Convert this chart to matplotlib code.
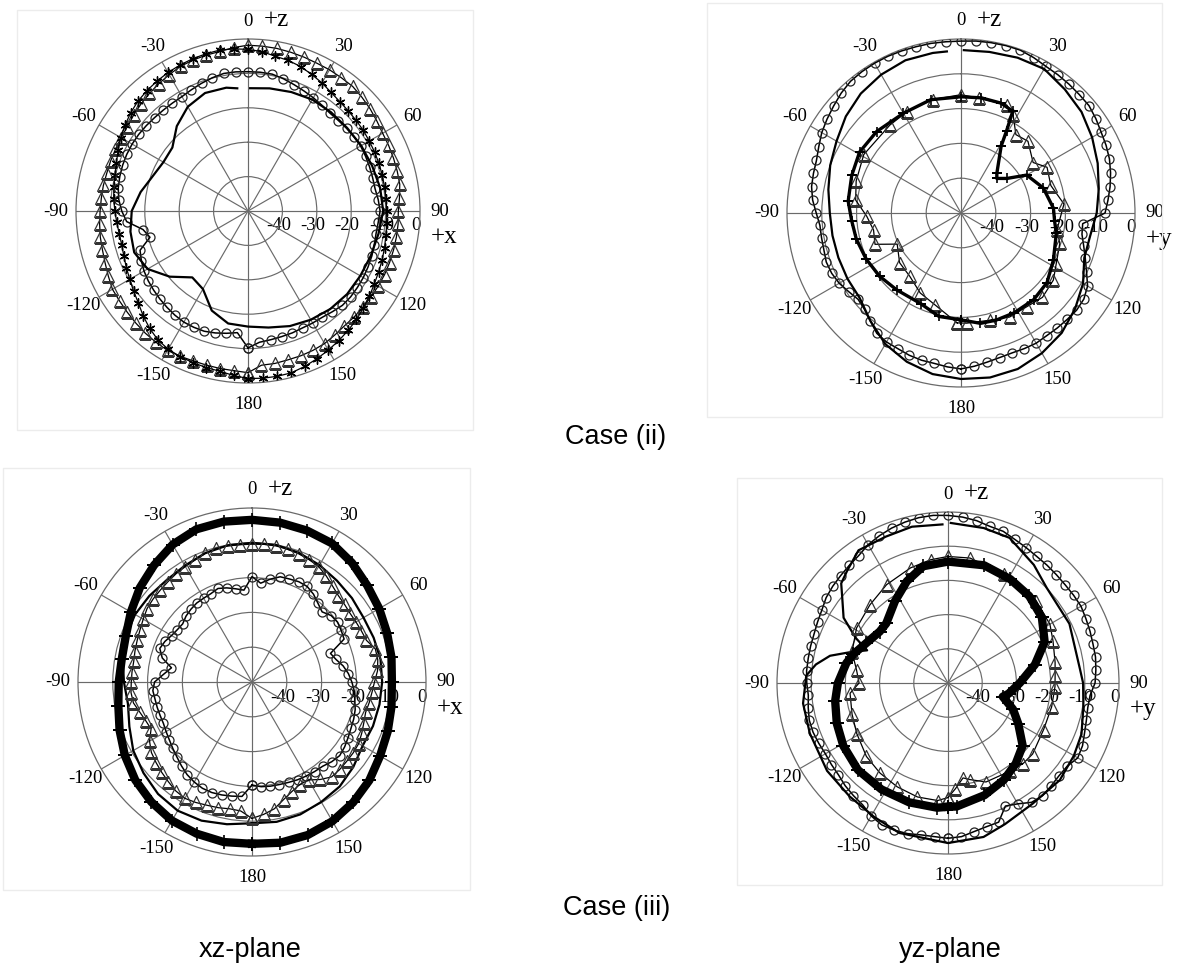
import numpy as np
import matplotlib.pyplot as plt
from matplotlib.patches import Rectangle

W, H, DPI = 1199, 968, 100

# angle grids (deg, 0 = top, clockwise)
ANG = np.arange(-180, 181, 10)
ANG5 = np.arange(-180, 181, 5)
GAP_ANG = np.r_[1, np.arange(10, 360, 10), 355]

# ---------------- Case (ii), xz-plane ----------------
xz2_tri = [-3, -3.4, -3.5, -3.6, -3.6, -3.4, -3.2, -3.4, -3.6, -3.9, -4.2, -4.4, -4.5, -5.2, -5.8, -6.2, -6.4, -6.7,
           -7, -7.2, -7.3, -7.5, -7.5, -7.5, -7.4, -7.2, -6.6, -6, -5.4, -4.8, -4.2, -3.6, -3.3, -3.1, -2.9, -2.3,
           -1.8, -1.9, -2, -2.2, -2.4, -2.6, -2.6, -2.7, -2.7, -3.2, -3.7, -4.3, -4.8, -4.9, -5, -5.1, -5.2, -5.8,
           -6.3, -6.2, -6.2, -6.2, -6.2, -6.2, -6.3, -6.4, -6.4, -6.4, -6.4, -6, -5.5, -5.3, -5.2, -5.2, -5, -5, -3]
xz2_star = [-1.3, -2, -2.7, -2.9, -3.1, -3.3, -3.6, -4.3, -5.5, -6.9, -8.4, -9.4, -10.3, -11, -11.6, -12, -12, -11.7,
            -11.3, -10.8, -10.4, -9.9, -9.3, -8.3, -7.3, -6.4, -5.5, -4.8, -4.3, -3.9, -3.5, -3.2, -2.9, -2.7, -2.5,
            -2.7, -3, -3.5, -4.3, -4.7, -5.3, -6.2, -7, -7.9, -8.5, -8.8, -9, -9.1, -9.3, -9.4, -9.5, -9.6, -9.7,
            -9.7, -9.7, -9.5, -9.3, -8.9, -8.5, -8.1, -7.6, -6.9, -6.2, -5.4, -4.7, -4, -3.3, -2.6, -1.9, -1.3, -1.2,
            -1.2, -1.3]
xz2_circ = [-10.2, -14.5, -13.9, -13.3, -12.8, -12.7, -12.7, -13, -13.4, -13.8, -14.2, -14.6, -15.1, -15.8, -16.6,
            -20.5, -19, -14.6, -13.3, -12.3, -11.7, -11.4, -11.2, -11.1, -11.1, -11.2, -11.4, -11.6, -11.7, -11.7,
            -11.6, -11.1, -10.5, -9.9, -9.4, -9.4, -9.5, -9.5, -9.6, -10.2, -10.9, -11.5, -12, -12.5, -12.9, -12.8,
            -12.6, -12.4, -12.2, -12.3, -12.4, -12.5, -12.5, -12, -11.6, -12, -12.2, -12, -11.7, -11.5, -11.3, -11.2,
            -11.1, -11.2, -11.8, -12.3, -12.4, -12.5, -12.3, -12.2, -12, -11.7, -10.2]
xz2_line = [-14.3, -13.8, -13.2, -12.6, -12.5, -12.4, -12, -11.6, -11, -10.7, -11.5, -12, -12.3, -12.4, -12.8, -13.5,
            -14.4, -15.6, -16.4, -16.8, -19.2, -23.8, -24.8, -20.3, -16.3, -14.8, -15.3, -16.2, -18.3, -20.5, -21.6,
            -21.3, -17.8, -15, -13.5, -13.6, -14.2]

# ---------------- Case (ii), yz-plane ----------------
yz2_circ = [-5.2, -5.6, -6.1, -6.2, -6.5, -7, -7.2, -7.8, -9.5, -10.8, -11.4, -10.6, -9.6, -9, -8.8, -9.2, -9.3, -9.3,
            -8.4, -7.2, -6.4, -6.1, -5.8, -4.9, -3.8, -3, -2.2, -1.3, -0.6, -0.4, -0.3, -0.3, -0.4, -0.5, -0.5, -0.6,
            -0.6, -0.4, -0.3, -0.2, -0.2, -0.7, -1.3, -1.5, -1.7, -1.9, -2, -2.7, -3.5, -4, -4.6, -5.5, -6.5, -7.6,
            -8.6, -14.9, -14.7, -13.5, -12, -10.2, -8, -6.9, -6.6, -6.8, -6.9, -7, -6.8, -7, -7.2, -7, -6.5, -5.8, -5.2]
yz2_line = [-3.2, -3, -2.5, -2.2, -3.6, -4.8, -6.5, -8.2, -9.8, -11, -12.3, -12.3, -9.5, -7.2, -5, -3.5, -2.3, -2,
            -2.3, -3, -4.5, -6.5, -9.5, -12, -12.3, -12.5, -12.5, -12.3, -11.3, -10, -8.7, -6.8, -5.2, -4.1, -3.3,
            -3.3, -3.4]
yz2_tri_ang = [-178, -164, -153, -141, -129, -116, -110, -101, -92, -83, -73, -59, -39, -28, -14, 0, 9, 23, 28, 35,
               43, 55, 62, 73, 85, 100, 107, 118, 126, 136, 145, 155, 165, 177, 182]
yz2_tri = [-18.4, -22.6, -24.2, -26.6, -27.3, -29.6, -23.7, -24.4, -22.9, -19.5, -18.5, -17.4, -17.5, -17, -16.4,
           -16, -16.6, -16.3, -18.1, -22.5, -21.8, -24.7, -22, -23, -20.3, -22, -20.3, -19, -17.2, -16.3, -17.1, -17,
           -18.1, -18.3, -18.4]
yz2_star_ang = [-180, -168, -156, -140, -128, -116, -104, -94, -84, -71, -59, -46, -30, -15, 0, 10, 20, 27, 29, 31,
                42, 46, 53, 60, 73, 87, 95, 102, 117, 129, 140, 152, 162, 170, 180]
yz2_star = [-19.3, -19.6, -21.5, -21.2, -20.4, -19.7, -19, -18.5, -17.4, -16.8, -16, -16.3, -16.9, -16.3, -16.6,
            -16.4, -16.4, -17.2, -23, -27.6, -34.6, -35.7, -33.5, -28.2, -25.3, -23.4, -23, -22, -20.2, -18.2, -17.5,
            -17.5, -17.6, -17.8, -19.3]

# ---------------- Case (iii), xz-plane ----------------
xz3_star = [-3.5, -3.3, -3.6, -4, -5, -6.2, -7.8, -9.5, -11, -11.7, -12, -11.4, -9.8, -7.9, -6.2, -4.4, -3.3, -3.2,
            -3.4, -3.5, -3.7, -4, -5.3, -6.8, -7.8, -8.7, -9.3, -9.8, -9.3, -8.5, -7.5, -6, -4.8, -3.8, -3.2, -3.1, -3.5]
xz3_tri = [-10.8, -12.8, -13, -12.6, -12.3, -11.8, -11.4, -11.8, -12.6, -13.3, -14, -14.7, -16, -18, -17.5, -16.6,
           -15.4, -15.1, -15.3, -15.4, -15.5, -15.2, -14.9, -14.5, -13.9, -13.2, -12.9, -12.7, -12.4, -12, -11.7,
           -11.3, -10.7, -10.2, -10.3, -10.4, -10.4, -10.3, -10.3, -10.5, -10.8, -11.2, -11.7, -12.8, -14, -14.9,
           -15.3, -15.6, -15.5, -15.3, -15, -13.3, -13.3, -13.8, -14.8, -15.4, -15.8, -16.2, -15.8, -15.2, -14.6,
           -14.5, -14.5, -14.4, -14.4, -15.8, -17.5, -17.5, -16.5, -15, -13, -11.8, -10.8]
xz3_circ = [-20.4, -17, -16.7, -16.4, -16.2, -16.3, -16.8, -17.5, -18.5, -19.5, -20.3, -21, -21.5, -21.9, -21.9,
            -21.8, -21.7, -21.4, -22, -24.5, -26.5, -23.3, -21.8, -22.4, -23.3, -23.8, -24, -23.2, -22.7, -22.3,
            -22.2, -22, -21.4, -22, -22.8, -23.5, -19.7, -21.5, -20, -18.7, -18.5, -18.2, -18.3, -19.2, -20.5, -21.5,
            -20.3, -20, -20.4, -20.8, -26, -25, -23.4, -22.2, -21.3, -20.5, -20, -19.3, -18.9, -18.6, -18.1, -17.5,
            -17.1, -17.6, -18.4, -18.6, -18.8, -19, -19.3, -19.5, -19.6, -19.8, -20.4]
xz3_line = [-9.4, -8.5, -7.6, -7.3, -8, -9.3, -10.6, -12.5, -13.8, -13.2, -12.3, -11.5, -11.2, -11.5, -11.8, -11.4,
            -10.6, -10.1, -10, -10, -10.5, -11.2, -12, -12.5, -13, -12.8, -12.5, -12.6, -12.8, -13, -13.3, -12, -10.8,
            -10.2, -9.5, -9.2, -9.4]

# ---------------- Case (iii), yz-plane ----------------
yz3_circ = [-4.6, -4.9, -4.9, -4.4, -4.2, -4.2, -5.1, -6.5, -7, -7.5, -8.2, -8.4, -8.6, -8.3, -8, -8, -8.5, -9, -8.7,
            -8.5, -8.5, -8.4, -8.3, -7.9, -7.4, -6.5, -6, -5.6, -5.1, -4.5, -3.3, -2.5, -1.8, -1.3, -0.9, -0.8, -1,
            -1.3, -1.8, -2.6, -2.8, -3.7, -4.3, -4.8, -5, -5.2, -5.3, -5.2, -5.1, -5.5, -5.8, -6.1, -6.2, -6.6, -7,
            -8.3, -8.5, -8.1, -7.5, -6.6, -6.2, -7.5, -7.7, -7.4, -7, -7.4, -9.2, -10.3, -6.7, -6.5, -5.9, -4.9, -4.6]
yz3_line_ang = [1, 13, 23, 36, 46, 64, 84, 90, 100, 111, 120, 131, 145, 158, 167, 180, -162, -151, -139, -126, -110,
                -98, -87, -82, -77, -72, -68, -64, -58, -51, -47, -42, -34, -23, -13, -2]
yz3_line = [-3.2, -3.5, -3.9, -7.3, -9.9, -10.5, -11.2, -10.5, -9.8, -8.2, -7.5, -6.7, -6.9, -5.5, -3.8, -3.2, -3.9,
            -5.3, -6.1, -6.3, -7, -7.2, -8.5, -11, -14.6, -20.5, -24.5, -20, -14, -10.2, -7.3, -5.9, -3.2, -3.5, -3.1,
            -3.6]
yz3_tri_ang = [-180, -175, -165, -154, -143, -132, -119, -108, -96, -90, -82, -72, -59, -45, -32, -18, -8, 0, 10, 27,
               47, 60, 68, 79, 86, 92, 103, 116, 130, 137, 145, 159, 167, 171, 176, 180]
yz3_tri = [-16.5, -15.5, -15.5, -16.2, -17, -17.9, -19.5, -20.5, -21.2, -24, -23, -20.5, -18.8, -17.7, -16.1, -14.6,
           -13.6, -13, -12.9, -14.2, -14.8, -15.6, -16.9, -18.1, -18.6, -18.7, -18.9, -18.9, -17.7, -17.8, -18.5, -19,
           -21, -21.9, -19, -16.5]
yz3_star_ang = [-180, -175, -162, -148, -134, -121, -110, -99, -90, -79, -73, -64, -53, -46, -33, -22, -12, 0, 17, 31,
                43, 55, 67, 78, 90, 100, 104, 112, 120, 130, 140, 150, 162, 176, 180]
yz3_star = [-13.8, -13.4, -13.3, -13.3, -13.4, -14.3, -15.4, -16.6, -17.8, -19.7, -21.1, -23.4, -25, -24.9, -21.5,
            -17.9, -15.1, -14.5, -14, -14.6, -15.2, -16.5, -19.3, -24, -29, -32, -33.5, -29.5, -26.3, -21.5, -19.2,
            -17.3, -15.5, -13.8, -13.8]

ANGLE_LABELS = ['0', '30', '60', '90', '120', '150', '180', '-150', '-120', '-90', '-60', '-30']
RING_LABELS = ['-40', '-30', '-20', '-10', '0']

SERIF = ['Liberation Serif', 'DejaVu Serif']
SANS = ['Liberation Sans', 'DejaVu Sans']

ASTER = (6, 2, 0)


def polar_panel(fig, cx, cy, R, side):
    ax = fig.add_axes([(cx - R) / W, 1 - (cy + R) / H, 2 * R / W, 2 * R / H], projection='polar')
    ax.set_theta_zero_location('N')
    ax.set_theta_direction(-1)
    ax.set_ylim(-50, 0)
    ax.set_yticks([-40, -30, -20, -10])
    ax.set_yticklabels([])
    ax.set_xticks(np.radians(np.arange(0, 360, 30)))
    ax.set_xticklabels([])
    ax.grid(True, color='#6a6a6a', lw=0.85)
    ax.spines['polar'].set_color('#6a6a6a')
    ax.spines['polar'].set_linewidth(0.9)

    # angle labels just outside the rim
    for i, lab in enumerate(ANGLE_LABELS):
        a = i * 30
        r = 5.2
        if a in (90, 270):
            r = 5.8
        if a == 180:
            r = 6.3
        ax.text(np.radians(a), r, lab, ha='center', va='center', fontsize=13.5, family=SERIF)
    ax.annotate('+z', xy=(0, 5.2), xytext=(28, 1), textcoords='offset pixels', annotation_clip=False,
                ha='center', va='center', fontsize=18, family=SERIF)
    ax.annotate('+' + side, xy=(np.pi / 2, 0), xytext=(24, -26), textcoords='offset pixels',
                annotation_clip=False, ha='center', va='center', fontsize=18, family=SERIF)
    # ring labels along the +x / +y axis
    for lab, rv in zip(RING_LABELS, [-40, -30, -20, -10, 0]):
        ax.annotate(lab, xy=(np.pi / 2, rv), xytext=(-4, -15), textcoords='offset pixels',
                    annotation_clip=False, ha='center', va='center', fontsize=13.5, family=SERIF, zorder=1)
    return ax


def draw(ax, ang, vals, kind):
    th = np.radians(ang)
    if kind == 'circ':
        ax.plot(th, vals, color='k', lw=1.1, marker='o', ms=6.5, mfc='none', mec='#222222', mew=0.9, zorder=4)
    elif kind == 'tri':
        ax.plot(th, vals, color='k', lw=0.9, marker='^', ms=8, mfc='none', mec='#333333', mew=0.9, zorder=4)
    elif kind == 'aster':
        ax.plot(th, vals, color='k', lw=0.9, marker=ASTER, ms=7, mec='k', mew=1.0, zorder=4)
    elif kind == 'plus':
        ax.plot(th, vals, color='k', lw=2.4, marker='+', ms=7, mec='k', mew=1.2, zorder=4)
    elif kind == 'band':
        ax.plot(th, vals, color='k', lw=6, marker='+', ms=10, mec='k', mew=1.2, zorder=4)
    else:
        ax.plot(th, vals, color='k', lw=1.6, zorder=4)


fig = plt.figure(figsize=(W / DPI, H / DPI), dpi=DPI)
fig.patch.set_facecolor('white')

# faint frames of the pasted pattern pictures
for x0, y0, x1, y1 in [(17, 10, 473, 430), (707, 3, 1162, 417), (3, 468, 470, 890), (737, 478, 1162, 885)]:
    fig.patches.append(Rectangle((x0 / W, 1 - y1 / H), (x1 - x0) / W, (y1 - y0) / H, transform=fig.transFigure,
                                 fill=False, edgecolor='#ececec', lw=1.0))

ax1 = polar_panel(fig, 248, 211, 172, 'x')
draw(ax1, ANG5, xz2_tri, 'tri')
draw(ax1, ANG5, xz2_star, 'aster')
draw(ax1, ANG5, xz2_circ, 'circ')
draw(ax1, GAP_ANG, xz2_line, 'line')

ax2 = polar_panel(fig, 961, 213, 174, 'y')
draw(ax2, ANG5, yz2_circ, 'circ')
draw(ax2, GAP_ANG, yz2_line, 'line')
draw(ax2, yz2_tri_ang, yz2_tri, 'tri')
draw(ax2, yz2_star_ang, yz2_star, 'plus')

ax3 = polar_panel(fig, 252, 682, 174, 'x')
draw(ax3, ANG, xz3_line, 'line')
draw(ax3, ANG5, xz3_circ, 'circ')
draw(ax3, ANG5, xz3_tri, 'tri')
draw(ax3, ANG, xz3_star, 'band')

ax4 = polar_panel(fig, 948, 683, 171, 'y')
draw(ax4, ANG5, yz3_circ, 'circ')
draw(ax4, yz3_line_ang, yz3_line, 'line')
draw(ax4, yz3_tri_ang, yz3_tri, 'tri')
draw(ax4, yz3_star_ang, yz3_star, 'band')

# captions
fig.text(616 / W, 1 - 437 / H, 'Case (ii)', ha='center', va='center', fontsize=19.5, family=SANS)
fig.text(617 / W, 1 - 908 / H, 'Case (iii)', ha='center', va='center', fontsize=19.5, family=SANS)
fig.text(250 / W, 1 - 950 / H, 'xz-plane', ha='center', va='center', fontsize=19.5, family=SANS)
fig.text(950 / W, 1 - 950 / H, 'yz-plane', ha='center', va='center', fontsize=19.5, family=SANS)

fig.savefig('out.png', dpi=DPI, facecolor='white')
